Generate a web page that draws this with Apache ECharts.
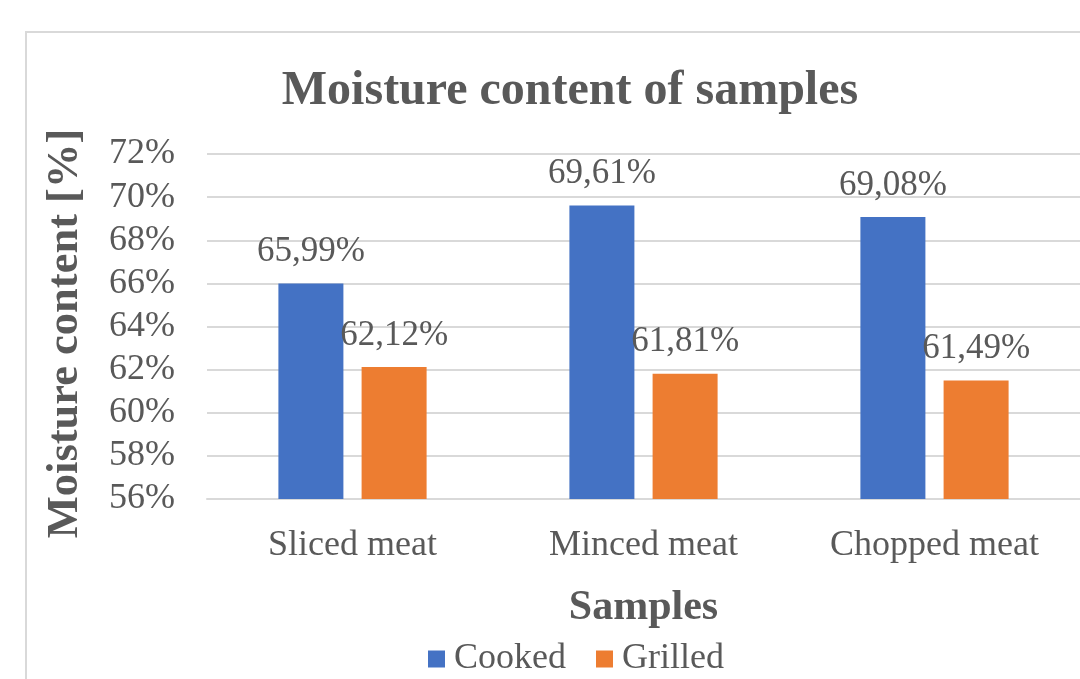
<!DOCTYPE html>
<html>
<head>
<meta charset="utf-8">
<script src="https://cdn.jsdelivr.net/npm/echarts@6/dist/echarts.min.js"></script>
<style>
  html, body { margin: 0; padding: 0; background: #fff; }
  #chart { width: 1080px; height: 679px; }
</style>
</head>
<body>
<div id="chart"></div>
<script>
// Moisture content (%) of meat samples, cooked vs grilled
const categories = ['Sliced meat', 'Minced meat', 'Chopped meat'];
const cooked = [65.99, 69.61, 69.08];
const grilled = [62.12, 61.81, 61.49];
const seriesNames = ['Cooked', 'Grilled'];
const yMin = 56, yMax = 72, yStep = 2;

const FONT = '"Liberation Serif", "Times New Roman", serif';
const TEXT = '#595959';

const fmtPct = v => v.toFixed(2).replace('.', ',') + '%';

const chart = echarts.init(document.getElementById('chart'), null, { renderer: 'canvas' });

const barLabel = {
  show: true,
  position: 'top',
  distance: 14,
  color: TEXT,
  fontFamily: FONT,
  fontSize: 35,
  formatter: p => fmtPct(p.value)
};

chart.setOption({
  animation: false,
  backgroundColor: '#fff',
  textStyle: { fontFamily: FONT },
  graphic: [{
    type: 'rect',
    shape: { x: 26, y: 32, width: 1100, height: 700 },
    style: { fill: 'none', stroke: '#d9d9d9', lineWidth: 2 },
    silent: true
  }],
  title: {
    text: 'Moisture content of samples',
    left: 565,
    textAlign: 'center',
    top: 63,
    textStyle: { fontFamily: FONT, fontSize: 48, fontWeight: 'bold', color: TEXT }
  },
  legend: {
    data: seriesNames,
    bottom: -3,
    left: 423,
    itemWidth: 17,
    itemHeight: 17,
    itemGap: 30,
    icon: 'rect',
    textStyle: { fontFamily: FONT, fontSize: 36, color: TEXT, padding: [0, 0, 0, 4] }
  },
  grid: { left: 207, right: 0, top: 154, bottom: 180, containLabel: false },
  xAxis: {
    type: 'category',
    data: categories,
    name: 'Samples',
    nameLocation: 'middle',
    nameGap: 88,
    nameTextStyle: { fontFamily: FONT, fontSize: 42, fontWeight: 'bold', color: TEXT },
    axisLine: { lineStyle: { color: '#d9d9d9', width: 2 } },
    axisTick: { show: false },
    axisLabel: { color: TEXT, fontFamily: FONT, fontSize: 36, margin: 29 }
  },
  yAxis: {
    type: 'value',
    min: yMin,
    max: yMax,
    interval: yStep,
    name: 'Moisture content [%]',
    nameLocation: 'middle',
    nameGap: 119,
    nameTextStyle: { fontFamily: FONT, fontSize: 44.5, fontWeight: 'bold', color: TEXT, padding: [0, 14, 0, 0] },
    axisLine: { show: false },
    axisTick: { show: false },
    splitLine: { lineStyle: { color: '#d9d9d9', width: 2 } },
    axisLabel: { color: TEXT, fontFamily: FONT, fontSize: 36, margin: 32, formatter: v => v + '%' }
  },
  series: [
    {
      name: seriesNames[0],
      type: 'bar',
      data: cooked,
      barWidth: 65,
      barGap: '28%',
      itemStyle: { color: '#4472C4' },
      label: barLabel
    },
    {
      name: seriesNames[1],
      type: 'bar',
      data: grilled,
      barWidth: 65,
      itemStyle: { color: '#ED7D31' },
      label: barLabel
    }
  ]
});
</script>
</body>
</html>
